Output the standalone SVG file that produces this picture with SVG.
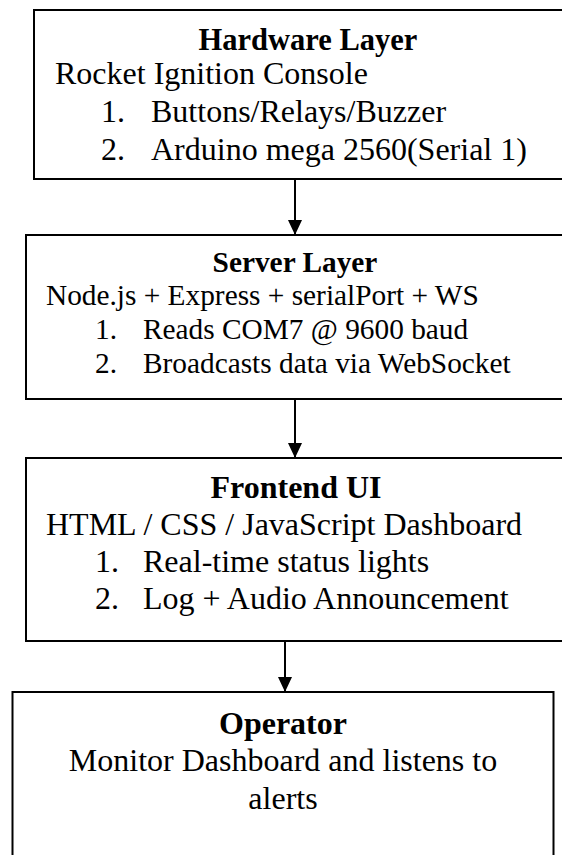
<svg xmlns="http://www.w3.org/2000/svg" width="562" height="855" viewBox="0 0 562 855">
  <defs>
    <marker id="arrow" markerWidth="16" markerHeight="14" refX="15" refY="7" orient="auto" markerUnits="userSpaceOnUse">
      <path d="M0,0 L15,7 L0,14 Z" fill="#000"/>
    </marker>
    <style>
      .box { fill: #fff; stroke: #000; stroke-width: 2; }
      .t { font-family: "Liberation Serif", "Times New Roman", serif; fill: #000; }
      .title { font-weight: bold; text-anchor: middle; }
      .mid { text-anchor: middle; }
      .link { stroke: #000; stroke-width: 2; fill: none; }
    </style>
  </defs>
  <rect width="562" height="855" fill="#fff"/>

  <!-- connectors -->
  <g id="connectors">
    <line class="link" x1="295" y1="179" x2="295" y2="235" marker-end="url(#arrow)"/>
    <line class="link" x1="295" y1="399" x2="295" y2="458" marker-end="url(#arrow)"/>
    <line class="link" x1="285" y1="641" x2="285" y2="692" marker-end="url(#arrow)"/>
  </g>

  <!-- hardware layer -->
  <g id="hardware">
    <rect class="box" x="34" y="10" width="550" height="169"/>
    <text class="t title" x="308" y="50" font-size="30.5">Hardware Layer</text>
    <text class="t" x="55" y="84" font-size="32">Rocket Ignition Console</text>
    <text class="t" x="101" y="122" font-size="32">1.</text>
    <text class="t" x="151" y="122" font-size="32">Buttons/Relays/Buzzer</text>
    <text class="t" x="101" y="160" font-size="32">2.</text>
    <text class="t" x="151" y="160" font-size="32">Arduino mega 2560(Serial 1)</text>
  </g>

  <!-- server layer -->
  <g id="server">
    <rect class="box" x="26" y="235" width="540" height="164"/>
    <text class="t title" x="295" y="272" font-size="29.33">Server Layer</text>
    <text class="t" x="46" y="305" font-size="29.33">Node.js + Express + serialPort + WS</text>
    <text class="t" x="95" y="339" font-size="29.33">1.</text>
    <text class="t" x="143" y="339" font-size="29.33">Reads COM7 @ 9600 baud</text>
    <text class="t" x="95" y="372.5" font-size="29.33">2.</text>
    <text class="t" x="143" y="372.5" font-size="29.33">Broadcasts data via WebSocket</text>
  </g>

  <!-- frontend -->
  <g id="frontend">
    <rect class="box" x="26" y="458" width="540" height="183"/>
    <text class="t title" x="296" y="498" font-size="32">Frontend UI</text>
    <text class="t" x="46" y="535" font-size="32">HTML / CSS / JavaScript Dashboard</text>
    <text class="t" x="95" y="572" font-size="32">1.</text>
    <text class="t" x="143" y="572" font-size="32">Real-time status lights</text>
    <text class="t" x="95" y="609" font-size="32">2.</text>
    <text class="t" x="143" y="609" font-size="32">Log + Audio Announcement</text>
  </g>

  <!-- operator -->
  <g id="operator">
    <rect class="box" x="12.5" y="692" width="541" height="180"/>
    <text class="t title" x="283" y="734" font-size="32">Operator</text>
    <text class="t mid" x="283" y="771" font-size="32">Monitor Dashboard and listens to</text>
    <text class="t mid" x="283" y="809" font-size="32">alerts</text>
  </g>
</svg>
